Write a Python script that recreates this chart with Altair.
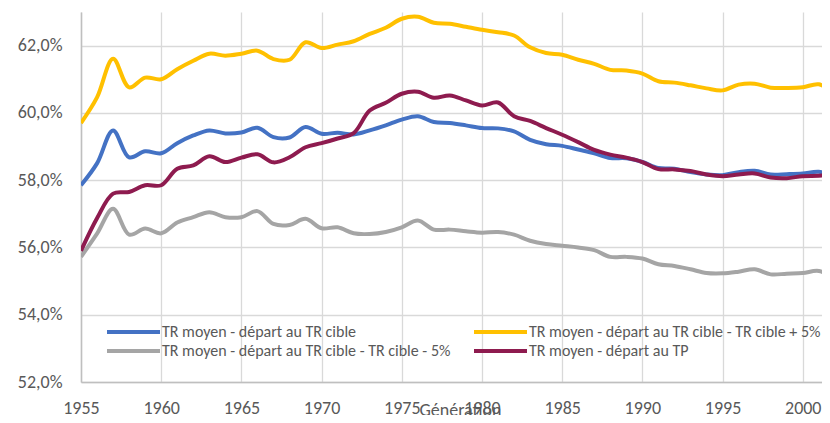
import altair as alt
import pandas as pd

years = list(range(1955, 2003))

s_blue = "TR moyen - départ au TR cible"
s_yellow = "TR moyen  - départ au TR cible - TR cible + 5%"
s_gray = "TR moyen  - départ au TR cible - TR cible - 5%"
s_maroon = "TR moyen - départ au TP"

blue = [57.85, 58.50, 59.48, 58.68, 58.86, 58.80, 59.10, 59.33, 59.48, 59.39,
        59.42, 59.56, 59.28, 59.27, 59.58, 59.38, 59.41, 59.36, 59.48, 59.63,
        59.80, 59.90, 59.73, 59.70, 59.63, 59.55, 59.54, 59.45, 59.20, 59.07,
        59.02, 58.91, 58.80, 58.66, 58.65, 58.54, 58.36, 58.34, 58.24, 58.17,
        58.15, 58.24, 58.28, 58.17, 58.18, 58.20, 58.25, 58.12]
yellow = [59.70, 60.46, 61.61, 60.76, 61.05, 61.00, 61.30, 61.55, 61.76, 61.70,
          61.76, 61.85, 61.60, 61.58, 62.10, 61.93, 62.03, 62.13, 62.35, 62.53,
          62.80, 62.86, 62.68, 62.65, 62.56, 62.47, 62.40, 62.30, 61.95, 61.78,
          61.73, 61.58, 61.46, 61.28, 61.26, 61.17, 60.94, 60.90, 60.82, 60.73,
          60.67, 60.84, 60.87, 60.75, 60.74, 60.76, 60.85, 60.55]
gray = [55.72, 56.41, 57.15, 56.38, 56.56, 56.42, 56.74, 56.90, 57.05, 56.90,
        56.90, 57.08, 56.70, 56.67, 56.85, 56.57, 56.60, 56.42, 56.40, 56.46,
        56.60, 56.80, 56.53, 56.53, 56.48, 56.44, 56.46, 56.38, 56.20, 56.10,
        56.05, 56.00, 55.92, 55.72, 55.72, 55.67, 55.50, 55.45, 55.35, 55.24,
        55.23, 55.28, 55.35, 55.20, 55.22, 55.24, 55.30, 55.08]
maroon = [55.90, 56.87, 57.60, 57.65, 57.85, 57.85, 58.34, 58.44, 58.71, 58.54,
          58.67, 58.77, 58.53, 58.68, 58.98, 59.10, 59.24, 59.40, 60.07, 60.30,
          60.57, 60.63, 60.45, 60.52, 60.37, 60.22, 60.31, 59.90, 59.76, 59.55,
          59.35, 59.13, 58.90, 58.76, 58.67, 58.54, 58.33, 58.32, 58.27, 58.17,
          58.12, 58.17, 58.20, 58.08, 58.06, 58.12, 58.13, 58.17]

x_ticks = [1955, 1960, 1965, 1970, 1975, 1980, 1985, 1990, 1995, 2000]
y_ticks = [52, 54, 56, 58, 60, 62]

FONT = "Carlito, Liberation Sans, Arial, sans-serif"
TXT = "#595959"

x_enc = alt.X(
    "annee:Q",
    scale=alt.Scale(domain=[1955, 2001.2], nice=False, zero=False),
    axis=alt.Axis(values=x_ticks, format="d", title="Génération",
                  labelFlush=False, labelOverlap=False, ticks=False,
                  labelPadding=17, titleY=33, titleX=379, titleAlign="center",
                  titleBaseline="alphabetic",
                  titleFontSize=18, titleFontWeight="normal", titleColor=TXT,
                  labelFontSize=18, labelColor=TXT, grid=True),
)
y_enc = alt.Y(
    "valeur:Q",
    scale=alt.Scale(domain=[52, 63], nice=False, zero=False),
    axis=alt.Axis(values=y_ticks, title=None, ticks=False, labelPadding=19,
                  labelExpr="replace(format(datum.value, '.1f'), '.', ',') + '%'",
                  labelFontSize=18, labelColor=TXT, grid=True),
)


def series_layer(name, vals, color, lx, ly):
    df = pd.DataFrame({"annee": years, "valeur": vals, "serie": name})
    leg = alt.Legend(orient="none", legendX=lx, legendY=ly, title=None,
                     symbolType="stroke", symbolSize=2809, symbolStrokeWidth=4,
                     labelFontSize=16, labelColor=TXT, labelFont=FONT,
                     labelLimit=600, labelOffset=0, padding=0)
    return alt.Chart(df).mark_line(
        strokeWidth=4, interpolate="catmull-rom", clip=True
    ).encode(
        x=x_enc, y=y_enc,
        color=alt.Color("serie:N",
                        scale=alt.Scale(domain=[name], range=[color]),
                        legend=leg),
    )


layers = [
    series_layer(s_blue, blue, "#4472C4", 24, 291.5),
    series_layer(s_yellow, yellow, "#FFC000", 391, 291.5),
    series_layer(s_gray, gray, "#A5A5A5", 24, 310.5),
    series_layer(s_maroon, maroon, "#8E1B4F", 391, 310.5),
]

chart = alt.layer(*layers).resolve_scale(color="independent").properties(
    width=741, height=370,
    autosize=alt.AutoSizeParams(type="none"),
    padding={"left": 73, "top": 4, "right": 0, "bottom": 33},
).configure_view(stroke=None).configure_axis(
    gridColor="#D9D9D9", gridWidth=1.3, domainColor="#BFBFBF", domainWidth=1.5,
    labelFont=FONT, titleFont=FONT,
)

chart.save("out.html", embed_options={"renderer": "svg", "actions": False})
